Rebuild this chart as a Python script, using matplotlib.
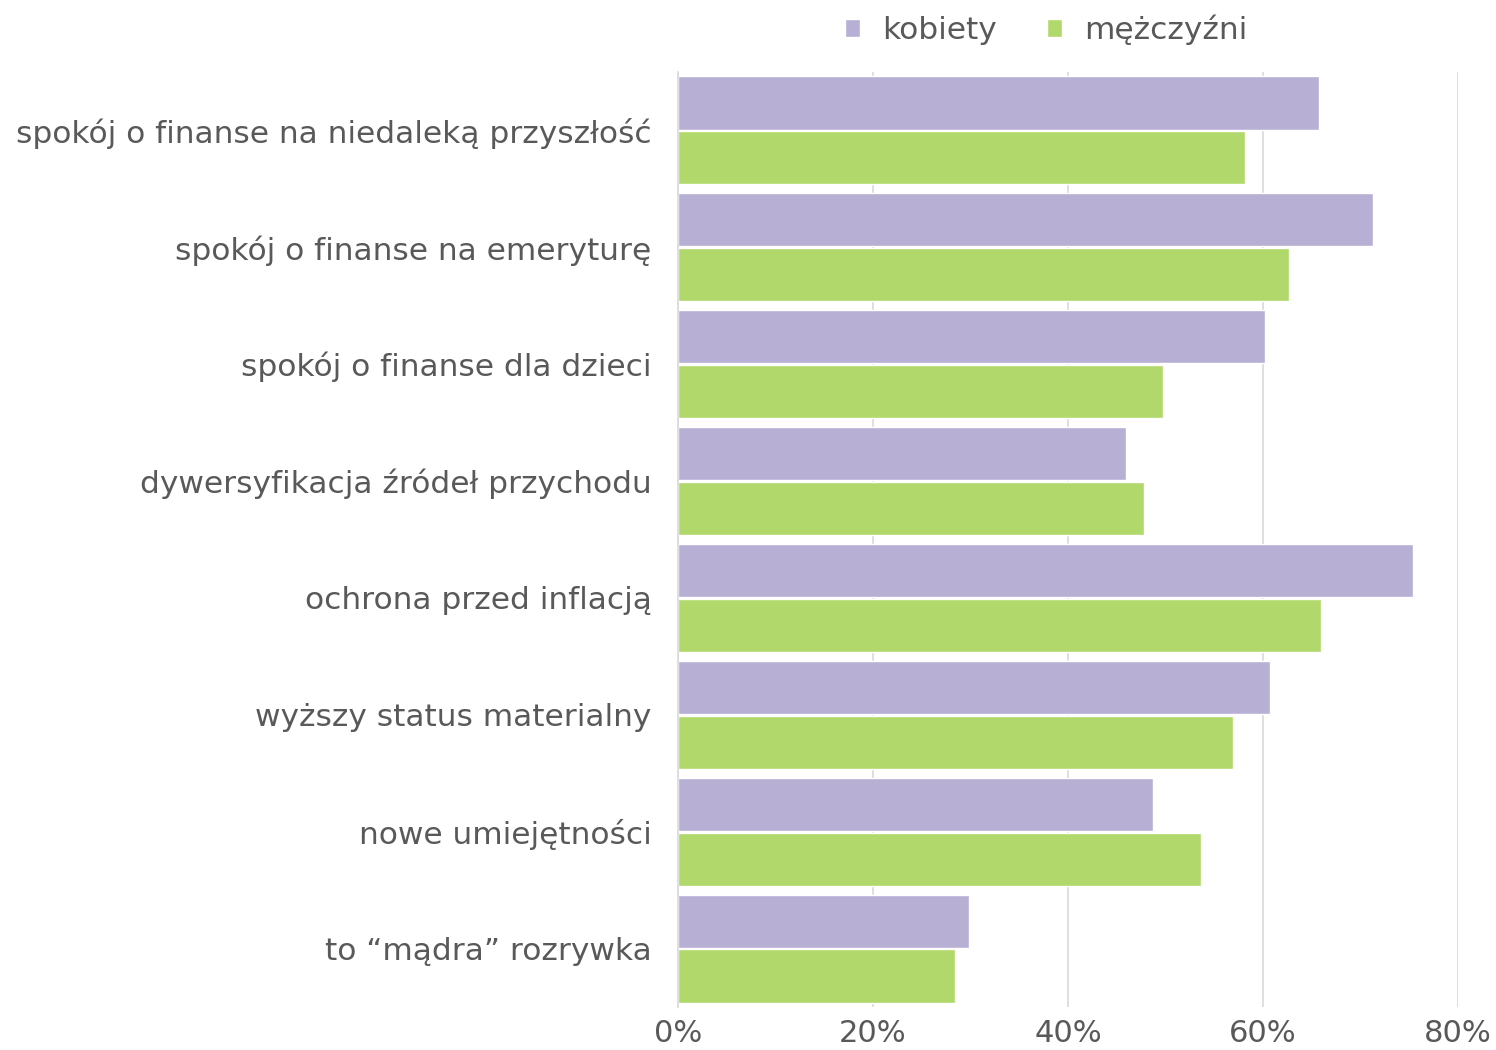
import matplotlib
matplotlib.use("Agg")
import matplotlib.pyplot as plt
import numpy as np
from matplotlib.ticker import PercentFormatter

# Data (percent)
categories = [
	"spokój o finanse na niedaleką przyszłość",
	"spokój o finanse na emeryturę",
	"spokój o finanse dla dzieci",
	"dywersyfikacja źródeł przychodu",
	"ochrona przed inflacją",
	"wyższy status materialny",
	"nowe umiejętności",
	"to “mądra” rozrywka",
]
kobiety = [65.7, 71.3, 60.2, 45.9, 75.4, 60.7, 48.7, 29.8]
mezczyzni = [58.2, 62.7, 49.7, 47.8, 65.9, 56.9, 53.6, 28.4]
series_names = ["kobiety", "mężczyźni"]
xticks = [0, 20, 40, 60, 80]

purple = "#B7AFD4"
green = "#B1D86B"
text_color = "#595959"

plt.rcParams["font.family"] = ["DejaVu Sans"]

fig = plt.figure(figsize=(14.96, 10.5), dpi=100)
ax = fig.add_axes([678 / 1496, 1 - 1007 / 1050, (1458 - 678) / 1496, (1007 - 72) / 1050])

y = np.arange(len(categories))
h = 0.455
ax.barh(y - 0.235, kobiety, height=h, color=purple, edgecolor="white", linewidth=1, label=series_names[0], zorder=3)
ax.barh(y + 0.235, mezczyzni, height=h, color=green, edgecolor="white", linewidth=1, label=series_names[1], zorder=3)

ax.set_ylim(len(categories) - 0.5, -0.5)
ax.set_xlim(0, 80)
ax.set_yticks(y)
ax.set_yticklabels(categories, fontsize=22.5, color=text_color)
ax.set_xticks(xticks)
ax.xaxis.set_major_formatter(PercentFormatter(decimals=0))
ax.tick_params(axis="x", labelsize=22, labelcolor=text_color, length=0, pad=9)
ax.tick_params(axis="y", length=0, pad=19)
ax.grid(axis="x", color="#D9D9D9", linewidth=1.2, zorder=0)
for s in ["top", "right", "bottom"]:
	ax.spines[s].set_visible(False)
ax.spines["left"].set_color("#D9D9D9")
ax.spines["left"].set_linewidth(1.2)
ax.spines["left"].set_zorder(4)

leg = fig.legend(loc="center", bbox_to_anchor=(1046 / 1496, 1 - 30 / 1050), ncol=2, frameon=False,
	fontsize=22.5, handlelength=0.5, handleheight=0.5, handletextpad=0.7, columnspacing=1.6)
for t in leg.get_texts():
	t.set_color(text_color)

fig.savefig("out.png", dpi=100)
